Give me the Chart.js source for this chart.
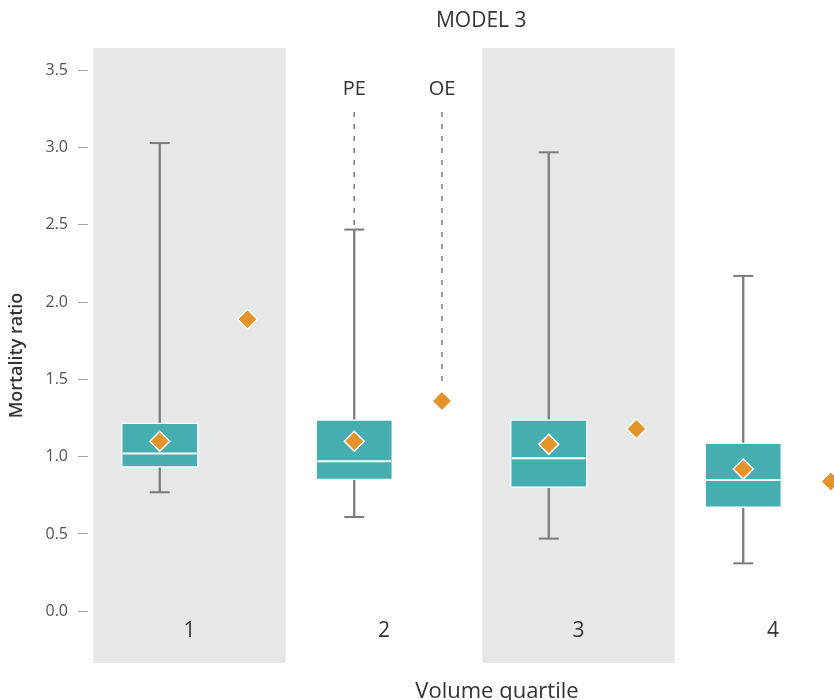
<!DOCTYPE html>
<html>
<head>
<meta charset="utf-8">
<title>Model 3 – mortality ratio by volume quartile</title>
<script src="https://cdn.jsdelivr.net/npm/chart.js@4.4.1/dist/chart.umd.min.js"></script>
<style>
  html, body { margin: 0; padding: 0; background: #ffffff; }
  canvas { display: block; }
</style>
</head>
<body>
<canvas id="chart" width="834" height="700"></canvas>
<script>
// Volume quartiles and the predicted-expected (PE) mortality ratio distribution
const quartiles   = ['1', '2', '3', '4'];
const whiskerHigh = [3.03, 2.47, 2.97, 2.17];
const boxUpper    = [1.22, 1.24, 1.24, 1.09];
const median      = [1.02, 0.97, 0.99, 0.85];
const boxLower    = [0.93, 0.85, 0.80, 0.67];
const whiskerLow  = [0.77, 0.61, 0.47, 0.31];
const peMean      = [1.10, 1.10, 1.08, 0.92];
// Observed-expected (OE) mortality ratio per quartile
const oeValues    = [1.89, 1.36, 1.18, 0.84];
// Y axis tick values
const yTicks      = [0, 0.5, 1, 1.5, 2, 2.5, 3, 3.5];

// Layout / style constants
const BOX_SHIFT = -0.153;   // box plot sits left of the category centre
const OE_SHIFT  = 0.298;    // OE marker sits right of the category centre
const BAND_HALF = 0.4946;   // half-width of a shaded category band
const TEAL   = '#46aeb0';
const ORANGE = '#e3952b';
const GREY   = '#7b7b7b';
const BAND   = '#e6e7e7';
const FONT   = "'Open Sans', 'Noto Sans', sans-serif";

const boxX = i => i + 1 + BOX_SHIFT;
const oeX  = i => i + 1 + OE_SHIFT;

const decorations = {
  id: 'decorations',
  beforeDatasetsDraw(chart) {
    const { ctx, chartArea, scales: { x } } = chart;
    ctx.save();
    // shaded bands behind quartiles 1 and 3
    ctx.fillStyle = BAND;
    quartiles.forEach((q, i) => {
      if (i % 2 !== 0) return;
      const l = x.getPixelForValue(i + 1 - BAND_HALF);
      const r = x.getPixelForValue(i + 1 + BAND_HALF);
      ctx.fillRect(l, chartArea.top, r - l, chartArea.bottom - chartArea.top);
    });
    // quartile labels along the bottom of the plot
    ctx.fillStyle = '#333333';
    ctx.font = '21px ' + FONT;
    ctx.textAlign = 'center';
    ctx.textBaseline = 'middle';
    quartiles.forEach((q, i) => {
      ctx.fillText(q, x.getPixelForValue(i + 1), chartArea.bottom - 32);
    });
    ctx.restore();
  },
  afterDatasetsDraw(chart) {
    const { ctx, chartArea, scales: { x, y } } = chart;
    ctx.save();
    ctx.fillStyle = '#333333';
    ctx.textAlign = 'center';
    ctx.textBaseline = 'middle';

    // chart title
    ctx.font = '21px ' + FONT;
    ctx.fillText('MODEL 3', x.getPixelForValue(2.5), 21);

    // x axis title
    ctx.font = '22px ' + FONT;
    ctx.fillText('Volume quartile', 497, 692);

    // PE / OE key above quartile 2
    const k = 1;
    const labelY = chartArea.top + 41;
    const lineTop = chartArea.top + 64;
    const peX = x.getPixelForValue(boxX(k));
    const oX  = x.getPixelForValue(oeX(k));
    ctx.font = '20px ' + FONT;
    ctx.fillText('PE', peX, labelY);
    ctx.fillText('OE', oX, labelY);

    ctx.strokeStyle = GREY;
    ctx.lineWidth = 1.5;
    ctx.setLineDash([5, 7]);
    ctx.beginPath();
    ctx.moveTo(peX, lineTop);
    ctx.lineTo(peX, y.getPixelForValue(whiskerHigh[k]) - 4);
    ctx.moveTo(oX, lineTop);
    ctx.lineTo(oX, y.getPixelForValue(oeValues[k]) - 14);
    ctx.stroke();
    ctx.restore();
  }
};

new Chart(document.getElementById('chart'), {
  type: 'scatter',
  data: {
    datasets: [
      {
        label: 'OE',
        data: quartiles.map((q, i) => ({ x: oeX(i), y: oeValues[i] })),
        pointStyle: 'rectRot',
        pointRadius: 10,
        pointBackgroundColor: ORANGE,
        pointBorderColor: '#ffffff',
        pointBorderWidth: 1.5,
        order: 0
      },
      {
        label: 'PE mean',
        data: quartiles.map((q, i) => ({ x: boxX(i), y: peMean[i] })),
        pointStyle: 'rectRot',
        pointRadius: 10,
        pointBackgroundColor: ORANGE,
        pointBorderColor: '#ffffff',
        pointBorderWidth: 1.5,
        order: 1
      },
      {
        label: 'Median',
        data: quartiles.map((q, i) => ({ x: boxX(i), y: median[i] })),
        pointStyle: 'line',
        pointRadius: 37,
        pointBorderColor: '#ffffff',
        pointBorderWidth: 2,
        order: 2
      },
      {
        type: 'bar',
        label: 'Interquartile range',
        data: quartiles.map((q, i) => ({ x: boxX(i), y: [boxLower[i], boxUpper[i]] })),
        backgroundColor: TEAL,
        borderColor: '#ffffff',
        borderWidth: 1.5,
        borderSkipped: false,
        barThickness: 77,
        grouped: false,
        order: 3
      },
      {
        label: 'Whisker caps',
        data: quartiles.flatMap((q, i) => [
          { x: boxX(i), y: whiskerLow[i] },
          { x: boxX(i), y: whiskerHigh[i] }
        ]),
        pointStyle: 'line',
        pointRadius: 10,
        pointBorderColor: GREY,
        pointBorderWidth: 2,
        order: 4
      },
      {
        type: 'bar',
        label: 'Whiskers',
        data: quartiles.map((q, i) => ({ x: boxX(i), y: [whiskerLow[i], whiskerHigh[i]] })),
        backgroundColor: GREY,
        borderWidth: 0,
        barThickness: 1.6,
        grouped: false,
        order: 5
      }
    ]
  },
  options: {
    responsive: false,
    animation: false,
    events: [],
    layout: { autoPadding: false, padding: { top: 48, bottom: 37, left: 0, right: 0 } },
    plugins: {
      legend: { display: false },
      tooltip: { enabled: false },
      title: { display: false }
    },
    scales: {
      x: {
        type: 'linear',
        display: false,
        min: 0.4781,
        max: 4.3136,
        offset: false,
        grid: { offset: false }
      },
      y: {
        type: 'linear',
        min: -0.335,
        max: 3.645,
        afterBuildTicks: s => { s.ticks = yTicks.map(v => ({ value: v })); },
        afterFit: s => { s.width = 88; },
        border: { display: false },
        grid: {
          drawOnChartArea: false,
          drawTicks: true,
          tickLength: 10,
          tickColor: '#a0a0a0',
          tickWidth: 1
        },
        ticks: {
          padding: 10,
          color: '#555555',
          font: { family: FONT, size: 16 },
          callback: v => Number(v).toFixed(1)
        },
        title: {
          display: true,
          text: 'Mortality ratio',
          color: '#333333',
          font: { family: FONT, size: 18, weight: '600' },
          padding: { top: 6, bottom: 0 }
        }
      }
    }
  },
  plugins: [decorations]
});
</script>
</body>
</html>
